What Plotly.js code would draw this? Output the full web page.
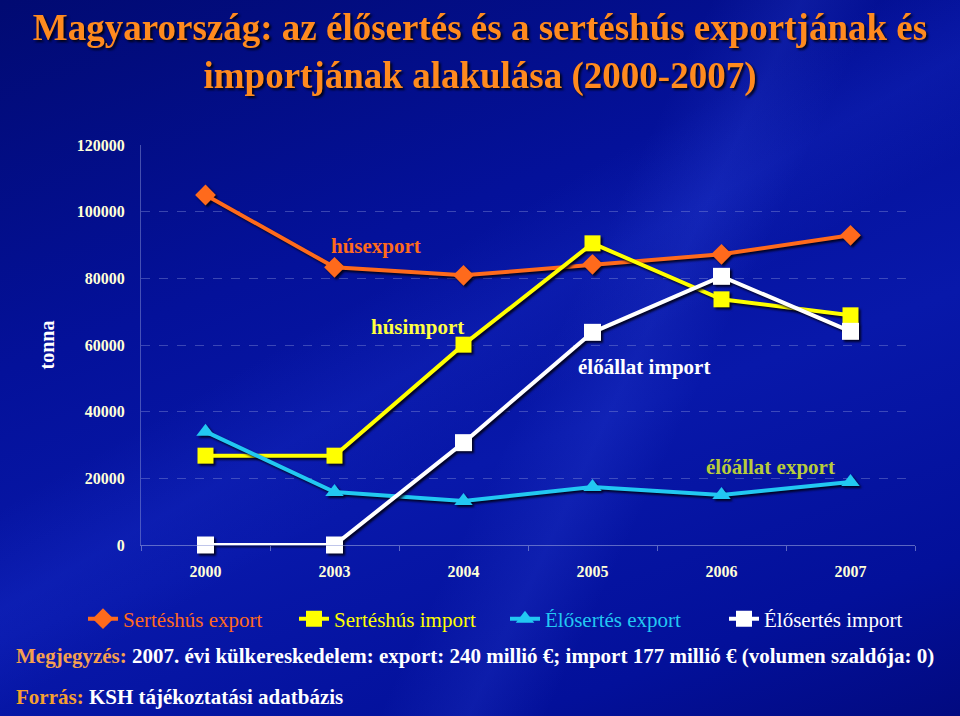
<!DOCTYPE html>
<html>
<head>
<meta charset="utf-8">
<script src="https://cdn.plot.ly/plotly-3.0.1.min.js"></script>
<style>
  html, body { margin: 0; padding: 0; }
  body {
    width: 960px; height: 716px; overflow: hidden;
    background:
      linear-gradient(115deg, rgba(255,255,255,0) 55%, rgba(70,100,255,0.14) 62%, rgba(255,255,255,0) 68%),
      linear-gradient(150deg, rgba(0,0,0,0) 40%, rgba(50,80,255,0.12) 48%, rgba(0,0,0,0) 56%),
      linear-gradient(160deg, #010a72 0%, #04119a 35%, #0818aa 60%, #03109a 85%, #020a80 100%);
  }
  #chart { width: 960px; height: 716px; }
  .scatterlayer .trace { filter: drop-shadow(2px 2px 1px rgba(0,0,20,0.9)); }
  .gtitle { filter: drop-shadow(2px 2px 1px rgba(0,0,0,0.8)); }
</style>
</head>
<body>
<div id="chart"></div>
<script>
// --- Data (tonna) ---
const years = ['2000', '2003', '2004', '2005', '2006', '2007'];
const husExport   = [105000, 83300, 80900, 84200, 87200, 92900];
const husImport   = [26800, 26800, 60100, 90500, 73700, 68900];
const eloExport   = [34000, 15900, 13200, 17400, 15000, 18900];
const eloImport   = [0, 0, 30700, 63800, 80600, 64100];

const seriesNames = ['Sertéshús export', 'Sertéshús import', 'Élősertés export', 'Élősertés import'];

const ORANGE = '#ff6a1c';
const YELLOW = '#ffff00';
const CYAN = '#22c8f2';
const WHITE = '#ffffff';
const SERIF = 'Liberation Serif, Times New Roman, serif';

function series(y, name, color, symbol, size, legendId) {
  return {
    x: years, y: y, type: 'scatter', mode: 'lines+markers',
    name: '<span style="color:' + color + '">' + name + '</span>',
    line: { color: color, width: 4 },
    marker: { color: color, symbol: symbol, size: size },
    legend: legendId,
    cliponaxis: false, hoverinfo: 'skip'
  };
}

// two legends side by side so the row never wraps
const traces = [
  series(husExport, seriesNames[0], ORANGE, 'diamond', 16, 'legend'),
  series(husImport, seriesNames[1], YELLOW, 'square', 16, 'legend'),
  series(eloExport, seriesNames[2], CYAN, 'triangle-up', 16, 'legend2'),
  series(eloImport, seriesNames[3], WHITE, 'square', 17, 'legend2')
];

const legendBase = {
  orientation: 'h', xanchor: 'left', y: -0.185, yanchor: 'middle',
  bgcolor: 'rgba(0,0,0,0)', traceorder: 'normal',
  font: { family: SERIF, size: 21 },
  entrywidthmode: 'pixels', itemwidth: 30
};

const layout = {
  width: 960, height: 716,
  paper_bgcolor: 'rgba(0,0,0,0)', plot_bgcolor: 'rgba(0,0,0,0)',
  margin: { l: 141, r: 45, t: 145, b: 171, autoexpand: false },
  font: { family: SERIF, color: '#ffffff' },
  title: {
    text: '<b>Magyarország: az élősertés és a sertéshús exportjának és<br>importjának alakulása (2000-2007)</b>',
    font: { family: SERIF, size: 37, color: '#ff8a1e' },
    x: 0.5, xref: 'container', y: 1 - 40 / 716, yref: 'container', yanchor: 'middle'
  },
  xaxis: {
    type: 'category', range: [-0.5, 5.5],
    showgrid: false, zeroline: false,
    showline: true, linecolor: 'rgba(150,160,220,0.6)', linewidth: 1,
    ticks: 'outside', tickson: 'boundaries', ticklen: 5, tickcolor: 'rgba(150,160,220,0.6)',
    tickfont: { family: SERIF, size: 16, weight: 'bold', color: '#ffffd8' },
    ticklabelstandoff: 12
  },
  yaxis: {
    range: [0, 120000], dtick: 20000, tickformat: 'd',
    showgrid: true, gridcolor: 'rgba(140,150,220,0.4)', griddash: 'dash', gridwidth: 1,
    zeroline: false,
    showline: true, linecolor: 'rgba(150,160,220,0.45)', linewidth: 1,
    tickfont: { family: SERIF, size: 16, weight: 'bold', color: '#ffffd8' },
    ticklabelstandoff: 12,
    title: { text: '<b>tonna</b>', font: { family: SERIF, size: 20, color: '#ffffff' }, standoff: 16 }
  },
  showlegend: true,
  legend: Object.assign({}, legendBase, { x: (83 - 141) / 774, entrywidth: 166 }),
  legend2: Object.assign({}, legendBase, { x: (505 - 141) / 774, entrywidth: 174 }),
  annotations: [
    { x: 1.32, y: 89800, xref: 'x', yref: 'y', text: '<b>húsexport</b>', showarrow: false,
      font: { family: SERIF, size: 21, color: '#ff6a1c' } },
    { x: 1.64, y: 65500, xref: 'x', yref: 'y', text: '<b>húsimport</b>', showarrow: false,
      font: { family: SERIF, size: 21, color: '#ffff40' } },
    { x: 3.40, y: 53500, xref: 'x', yref: 'y', text: '<b>élőállat import</b>', showarrow: false,
      font: { family: SERIF, size: 21, color: '#ffffff' } },
    { x: 4.38, y: 23400, xref: 'x', yref: 'y', text: '<b>élőállat export</b>', showarrow: false,
      font: { family: SERIF, size: 21, color: '#b8cc3a' } },
    { x: 14, y: 60, xref: 'paper', yref: 'paper', xanchor: 'left', yanchor: 'middle',
      text: '<b><span style="color:#f5a050">Megjegyzés:</span> 2007. évi külkereskedelem: export: 240 millió €; import 177 millió € (volumen szaldója: 0)</b>',
      showarrow: false, font: { family: SERIF, size: 21, color: '#ffffff' } },
    { x: 14, y: 19, xref: 'paper', yref: 'paper', xanchor: 'left', yanchor: 'middle',
      text: '<b><span style="color:#f5a030">Forrás:</span> KSH tájékoztatási adatbázis</b>',
      showarrow: false, font: { family: SERIF, size: 21, color: '#ffffff' } }
  ]
};

// note lines are placed in pixels from the page bottom, convert to paper units
const plotH = layout.height - layout.margin.t - layout.margin.b;
const plotW = layout.width - layout.margin.l - layout.margin.r;
layout.annotations.slice(4).forEach(a => {
  a.x = (a.x - layout.margin.l) / plotW;
  a.y = (layout.margin.b - a.y) / plotH * -1;
});

Plotly.newPlot('chart', traces, layout, { displayModeBar: false, staticPlot: true });
</script>
</body>
</html>
